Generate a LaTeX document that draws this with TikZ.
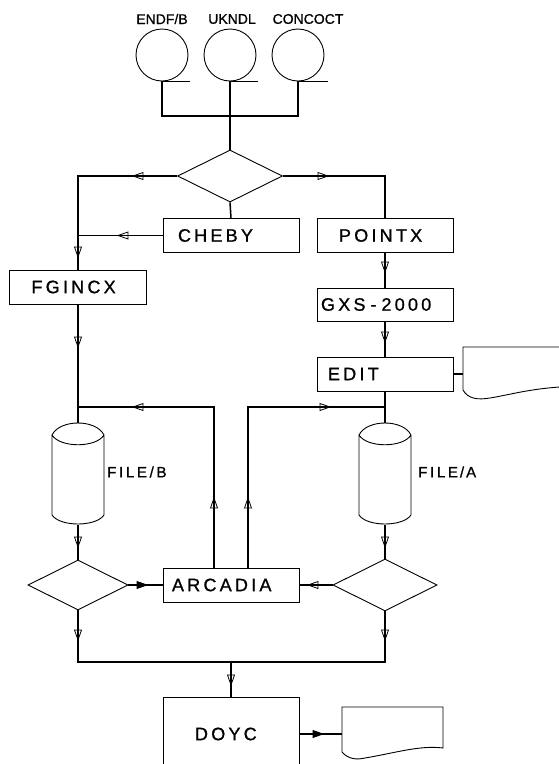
\documentclass[tikz,border=0pt]{standalone}
\usepackage{fontspec}
\newfontfamily\lblfont[LetterSpace=18,FakeBold=1]{Liberation Sans}
\newfontfamily\topfont[FakeBold=0.8]{Liberation Sans}
\usetikzlibrary{shapes.geometric,calc}
\newcommand\drawcyl[1]{\draw[thinl] (#1-26,435) -- (#1-26,515) .. controls (#1-18,527) and (#1+18,527) .. (#1+26,515) -- (#1+26,435) .. controls (#1+18,419) and (#1-18,419) .. (#1-26,435) .. controls (#1-18,448) and (#1+18,448) .. (#1+26,435);}
\tikzset{
 box/.style={draw, line width=0.9pt, inner sep=0pt, minimum height=34pt, font=\lblfont\fontsize{18}{20}\selectfont},
 tape/.style={draw, circle, line width=0.9pt, minimum size=52pt, inner sep=0pt},
 dec/.style={draw, diamond, line width=0.9pt, inner sep=0pt},
 conn/.style={line width=1.5pt},
 thinl/.style={line width=0.9pt},
 toplab/.style={font=\topfont\fontsize{14}{16}\selectfont, inner sep=0pt},
 filelab/.style={font=\lblfont\fontsize{15}{17}\selectfont, inner sep=0pt, anchor=west},
 ah/.pic={\draw[line width=0.8pt] (0,0) -- (-10,3.5) -- (-10,-3.5) -- cycle;},
 ahf/.pic={\draw[line width=0.8pt, fill=black] (0,0) -- (-10,3.5) -- (-10,-3.5) -- cycle;},
}
\begin{document}
\begin{tikzpicture}[x=1pt,y=-1pt]
\useasboundingbox (0,0) rectangle (559,764);

% tapes
\node[tape] (t1) at (162,55) {};
\node[tape] (t2) at (230,55) {};
\node[tape] (t3) at (298,55) {};
\node[toplab] (l1) at (162,19) {ENDF/B};
\node[toplab] (l2) at (232,19) {UKNDL};
\node[toplab] (l3) at (308,19) {CONCOCT};
\draw[thinl] (t1.south) -- ++(28,0);
\draw[thinl] (t2.south) -- ++(28,0);
\draw[thinl] (t3.south) -- ++(30,0);

% decision and boxes
\node[dec, minimum width=105pt, minimum height=52pt] (d1) at (230,176) {};
\node[box, minimum width=136pt] (cheby) at (231,235.5) {\makebox[136pt][l]{\hspace{15pt}CHEBY}};
\node[box, minimum width=136pt] (pointx) at (385,235.5) {\makebox[136pt][l]{\hspace{22pt}POINTX}};
\node[box, minimum width=137pt] (fgincx) at (78,287) {\makebox[137pt][l]{\hspace{22pt}FGINCX}};
\node[box, minimum width=136pt, minimum height=33pt] (gxs) at (385,304.5) {\makebox[136pt][l]{\hspace{4pt}GXS\kern5pt-\kern5pt2000}};
\node[box, minimum width=136pt] (edit) at (385,374) {\makebox[136pt][l]{\hspace{11pt}EDIT}};

% files
\node[inner sep=0pt, minimum width=52pt, minimum height=102pt] (fb) at (78,474) {};
\node[inner sep=0pt, minimum width=52pt, minimum height=102pt] (fa) at (385,474) {};
\drawcyl{78}
\drawcyl{385}
\node[filelab] (fbl) at (107,472) {FILE/B};
\node[filelab] (fal) at (418,472) {FILE\kern2pt/\kern2pt A};

% lower
\node[dec, minimum width=100pt, minimum height=50pt] (dl) at (78,585) {};
\node[dec, minimum width=104pt, minimum height=52pt] (dr) at (385,585) {};
\node[box, minimum width=136pt] (arcadia) at (231,585) {\makebox[136pt][l]{\hspace{9pt}ARCADIA}};
\node[box, minimum width=136pt, minimum height=74pt] (doyc) at (231,734) {\makebox[136pt][l]{\hspace{32pt}DOYC}};

% documents
\coordinate (doc1) at (463,374);
\coordinate (doc2) at (342,734);
\draw[thinl] (600,347) -- (463,347) -- (463,390) .. controls (468,399) and (478,400) .. (490,398) .. controls (515,394) and (540,385) .. (600,386);
\draw[thinl] (443,707) -- (342,707) -- (342,752) .. controls (348,759) and (356,760) .. (365,758) .. controls (395,753) and (420,745) .. (443,748) -- cycle;

% connectors
\coordinate (bust) at (230,116);
\draw[conn] (t1.south) |- (bust) -| (t3.south);
\draw[conn] (t2.south) -- (d1.north);
\draw[conn] (d1.west) -| (fgincx.north);
\draw[conn] (d1.east) -| (pointx.north);
\draw[conn] (d1.south) -- (cheby.north);
\draw[conn] (cheby.west) -- (cheby.west -| fgincx.north);
\draw[conn] (pointx.south) -- (gxs.north);
\draw[conn] (gxs.south) -- (edit.north);
\draw[conn] (edit.east) -- (doc1);
\draw[conn] (edit.south) -- (fa.north);
\draw[conn] (fgincx.south) -- (fb.north);
\coordinate (jl) at (78,407);
\coordinate (jr) at (385,407);
\coordinate (xl) at (214,0);
\coordinate (xr) at (248,0);
\draw[conn] (arcadia.north -| xl) |- (jl);
\draw[conn] (arcadia.north -| xr) |- (jr);
\draw[conn] (fb.south) -- (dl.north);
\draw[conn] (fa.south) -- (dr.north);
\draw[conn] (dl.east) -- (arcadia.west);
\draw[conn] (dr.west) -- (arcadia.east);
\coordinate (bus) at (231,662);
\draw[conn] (dl.south) |- (bus) -| (dr.south);
\draw[conn] (bus) -- (doyc.north);
\draw[conn] (doyc.east) -- (doc2);

% arrowheads
\pic[rotate=180] at (133,176) {ah};
\pic[rotate=-90] at (78,257) {ah};
\pic at (328,176) {ah};
\pic[rotate=180] at (118,235.5) {ah};
\pic[rotate=-90] at (385,272) {ah};
\pic[rotate=-90] at (78,347) {ah};
\pic[rotate=-90] at (385,342) {ah};
\pic[rotate=180] at (133,407) {ah};
\pic at (330,407) {ah};
\pic[rotate=90] at (214,498) {ah};
\pic[rotate=90] at (248,498) {ah};
\pic[rotate=-90] at (78,547) {ah};
\pic[rotate=-90] at (385,547) {ah};
\pic at (147,585) {ahf};
\pic[rotate=180] at (308,585) {ah};
\pic[rotate=-90] at (78,640) {ah};
\pic[rotate=-90] at (385,640) {ah};
\pic[rotate=-90] at (231,685) {ah};
\pic at (323,734) {ahf};
\end{tikzpicture}
\end{document}
